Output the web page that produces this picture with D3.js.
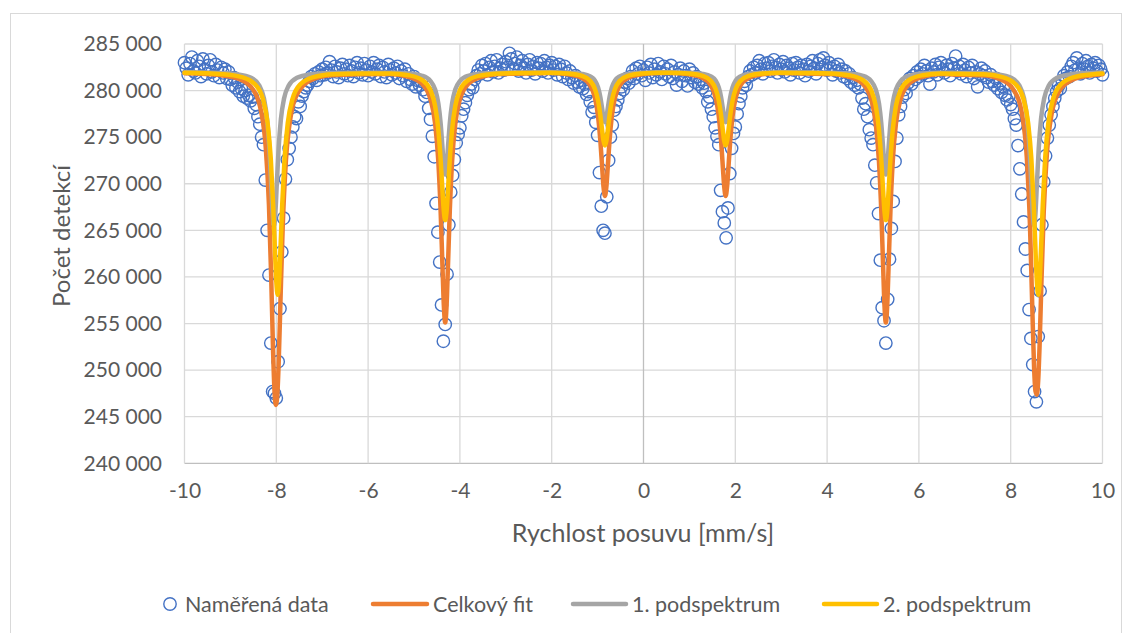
<!DOCTYPE html>
<html>
<head>
<meta charset="utf-8">
<script src="https://cdn.jsdelivr.net/npm/d3@7"></script>
<style>
  html, body { margin: 0; padding: 0; background: #ffffff; }
  svg { display: block; font-family: Lato, "Open Sans", sans-serif; }
</style>
</head>
<body>
<svg id="chart" width="1132" height="633"></svg>
<script>
// Mössbauer spectrum: measured counts per channel velocity [mm/s]
const velocity = [
  -10,-9.96,-9.92,-9.88,-9.84,-9.8,-9.76,-9.72,-9.68,-9.64,-9.6,-9.56,-9.52,-9.48,-9.44,-9.4,-9.36,-9.32,-9.28,-9.24,-9.2,-9.16,-9.12,-9.08,-9.04,
  -9,-8.96,-8.92,-8.88,-8.84,-8.8,-8.76,-8.72,-8.68,-8.64,-8.6,-8.56,-8.52,-8.48,-8.44,-8.4,-8.36,-8.32,-8.28,-8.24,-8.2,-8.16,-8.12,-8.08,-8.04,
  -8,-7.96,-7.92,-7.88,-7.84,-7.8,-7.76,-7.72,-7.68,-7.64,-7.6,-7.56,-7.52,-7.48,-7.44,-7.4,-7.36,-7.32,-7.28,-7.24,-7.2,-7.16,-7.12,-7.08,-7.04,
  -7,-6.96,-6.92,-6.88,-6.84,-6.8,-6.76,-6.72,-6.68,-6.64,-6.6,-6.56,-6.52,-6.48,-6.44,-6.4,-6.36,-6.32,-6.28,-6.24,-6.2,-6.16,-6.12,-6.08,-6.04,
  -6,-5.96,-5.92,-5.88,-5.84,-5.8,-5.76,-5.72,-5.68,-5.64,-5.6,-5.56,-5.52,-5.48,-5.44,-5.4,-5.36,-5.32,-5.28,-5.24,-5.2,-5.16,-5.12,-5.08,-5.04,
  -5,-4.96,-4.92,-4.88,-4.84,-4.8,-4.76,-4.72,-4.68,-4.64,-4.6,-4.56,-4.52,-4.48,-4.44,-4.4,-4.36,-4.32,-4.28,-4.24,-4.2,-4.16,-4.12,-4.08,-4.04,
  -4,-3.96,-3.92,-3.88,-3.84,-3.8,-3.76,-3.72,-3.68,-3.64,-3.6,-3.56,-3.52,-3.48,-3.44,-3.4,-3.36,-3.32,-3.28,-3.24,-3.2,-3.16,-3.12,-3.08,-3.04,
  -3,-2.96,-2.92,-2.88,-2.84,-2.8,-2.76,-2.72,-2.68,-2.64,-2.6,-2.56,-2.52,-2.48,-2.44,-2.4,-2.36,-2.32,-2.28,-2.24,-2.2,-2.16,-2.12,-2.08,-2.04,
  -2,-1.96,-1.92,-1.88,-1.84,-1.8,-1.76,-1.72,-1.68,-1.64,-1.6,-1.56,-1.52,-1.48,-1.44,-1.4,-1.36,-1.32,-1.28,-1.24,-1.2,-1.16,-1.12,-1.08,-1.04,
  -1,-0.96,-0.92,-0.88,-0.84,-0.8,-0.76,-0.72,-0.68,-0.64,-0.6,-0.56,-0.52,-0.48,-0.44,-0.4,-0.36,-0.32,-0.28,-0.24,-0.2,-0.16,-0.12,-0.08,-0.04,
  0,0.04,0.08,0.12,0.16,0.2,0.24,0.28,0.32,0.36,0.4,0.44,0.48,0.52,0.56,0.6,0.64,0.68,0.72,0.76,0.8,0.84,0.88,0.92,0.96,
  1,1.04,1.08,1.12,1.16,1.2,1.24,1.28,1.32,1.36,1.4,1.44,1.48,1.52,1.56,1.6,1.64,1.68,1.72,1.76,1.8,1.84,1.88,1.92,1.96,
  2,2.04,2.08,2.12,2.16,2.2,2.24,2.28,2.32,2.36,2.4,2.44,2.48,2.52,2.56,2.6,2.64,2.68,2.72,2.76,2.8,2.84,2.88,2.92,2.96,
  3,3.04,3.08,3.12,3.16,3.2,3.24,3.28,3.32,3.36,3.4,3.44,3.48,3.52,3.56,3.6,3.64,3.68,3.72,3.76,3.8,3.84,3.88,3.92,3.96,
  4,4.04,4.08,4.12,4.16,4.2,4.24,4.28,4.32,4.36,4.4,4.44,4.48,4.52,4.56,4.6,4.64,4.68,4.72,4.76,4.8,4.84,4.88,4.92,4.96,
  5,5.04,5.08,5.12,5.16,5.2,5.24,5.28,5.32,5.36,5.4,5.44,5.48,5.52,5.56,5.6,5.64,5.68,5.72,5.76,5.8,5.84,5.88,5.92,5.96,
  6,6.04,6.08,6.12,6.16,6.2,6.24,6.28,6.32,6.36,6.4,6.44,6.48,6.52,6.56,6.6,6.64,6.68,6.72,6.76,6.8,6.84,6.88,6.92,6.96,
  7,7.04,7.08,7.12,7.16,7.2,7.24,7.28,7.32,7.36,7.4,7.44,7.48,7.52,7.56,7.6,7.64,7.68,7.72,7.76,7.8,7.84,7.88,7.92,7.96,
  8,8.04,8.08,8.12,8.16,8.2,8.24,8.28,8.32,8.36,8.4,8.44,8.48,8.52,8.56,8.6,8.64,8.68,8.72,8.76,8.8,8.84,8.88,8.92,8.96,
  9,9.04,9.08,9.12,9.16,9.2,9.24,9.28,9.32,9.36,9.4,9.44,9.48,9.52,9.56,9.6,9.64,9.68,9.72,9.76,9.8,9.84,9.88,9.92,9.96,
  10
];

const counts = [
  283000,282400,281700,282900,283600,282100,281900,283200,282600,281500,283400,282300,281800,282700,283300,282000,281600,282800,282200,281400,282500,281900,282300,281300,282000,
  281200,280600,281400,280300,280900,279900,280200,279400,280000,279200,279500,278900,279300,278100,278500,277200,276400,275000,274200,270400,265000,260200,252900,247700,247500,
  247000,250900,256600,262700,266300,270500,272600,273800,275000,276100,277200,277000,278800,278300,279400,279900,280300,280600,281000,281500,281300,281800,281100,282000,281600,
  282300,281700,282500,281900,283100,282200,281500,282600,282000,281400,282400,282800,281800,282300,281600,282700,282100,281500,282500,283000,281900,282400,281700,282900,282200,
  281600,282600,282000,283000,281800,282300,282700,281500,282500,282000,281400,282800,282200,281700,282400,281900,282600,281300,282100,281600,282300,281000,281800,281200,280700,
  281500,280400,281100,280600,281000,280100,279400,279800,278100,276900,275100,272900,267900,264800,261600,257000,253100,254900,260300,265600,269100,270900,272600,274400,275300,
  276000,277300,278000,278700,279500,280100,280700,280300,281200,281600,282200,281800,282700,282100,282900,281700,282500,283200,282000,282600,283300,281900,282400,282800,282200,
  283100,282500,284000,283400,282300,282900,283600,282100,282700,283200,282400,281900,282800,283300,282200,282600,281800,283000,282400,282900,282100,283200,282500,281900,282700,
  283000,282200,282600,281700,282800,282300,281500,282600,281900,281200,282100,281400,280800,281600,280900,280400,281100,280200,280700,279600,279900,278800,277700,278200,276600,
  275200,271200,267600,265000,264700,268600,272500,275000,276300,277900,278300,279000,279700,280400,280100,280900,281300,280800,281500,282100,281300,282400,281800,282600,281600,
  282200,281100,282500,281900,282800,281400,282300,281700,282900,282000,281200,282600,281800,282300,281500,282700,281300,282000,280600,281700,282400,281000,282100,281600,280500,
  282300,281400,281900,280900,281500,280700,281200,280300,280800,279900,278800,279300,278000,277200,276000,275100,274200,269300,267000,265800,264200,267400,271100,273800,275400,
  276100,277500,278600,279400,280300,281000,280600,281500,282100,281700,282500,281900,282700,283200,282300,281800,282900,282400,283000,282100,282600,283300,282500,281900,282800,
  282300,283100,282000,282700,282400,281700,282900,282200,283000,282500,281900,282700,282300,281600,282800,282100,282600,283200,282400,281800,282900,283300,282500,283500,282700,
  282200,283000,282400,281700,282600,282100,282800,281900,282300,281500,282100,281300,281800,280900,281400,280600,281100,280300,280700,279200,278000,278600,277200,275800,274900,
  274200,272000,270100,266800,261800,256700,255300,252900,257600,261900,265200,268100,272400,274900,277400,278300,279300,280100,279700,280800,281300,280700,281600,281200,282000,
  281500,282300,281800,282700,282100,281600,280700,282400,282000,282800,281700,282500,283000,282200,281900,282700,282300,281600,282900,282400,283700,282100,282600,281800,282800,
  282200,281500,282500,281900,282700,281300,282000,280400,281800,282400,281600,282100,281400,280900,281700,281000,280600,281300,280200,280800,279800,280400,279500,279000,279400,
  278500,278000,277000,276300,274100,271600,268900,265900,263000,260700,256500,253400,250600,247700,246600,253600,258500,265600,270200,273000,274900,276300,277400,278300,279200,
  279900,280500,280200,281100,281600,281300,282000,281500,282600,283000,282200,283500,282400,281800,282900,282300,283200,282600,281900,282800,282400,283000,282100,282700,282300,
  281700
];

// Fitted curves: [velocity, counts]
const fitTotal = [
  [-10,281870],
  [-9.21,281660],[-8.81,281240],[-8.51,280130],[-8.33,277740],[-8.23,273910],[-8.16,267720],[-8.11,259750],[-8.07,252030],[-8.04,247830],[-8.01,246270],
  [-7.98,247190],[-7.95,250500],[-7.91,257310],[-7.86,265430],[-7.79,272520],[-7.69,277110],[-7.51,279930],[-7.21,281190],[-6.81,281640],
  [-6.2,281750],
  [-5.52,281770],[-5.12,281480],[-4.82,280710],[-4.64,279060],[-4.54,276470],[-4.47,272410],[-4.42,267120],[-4.38,261190],[-4.35,256940],[-4.32,255100],
  [-4.29,256940],[-4.26,261190],[-4.22,267120],[-4.17,272410],[-4.1,276470],[-4,279060],[-3.82,280710],[-3.52,281480],[-3.12,281770],
  [-2.58,281830],
  [-2.04,281890],[-1.64,281740],[-1.34,281360],[-1.16,280550],[-1.06,279270],[-0.99,277260],[-0.94,274640],[-0.9,271710],[-0.87,269610],[-0.84,268700],
  [-0.81,269610],[-0.78,271710],[-0.74,274640],[-0.69,277260],[-0.62,279270],[-0.52,280550],[-0.34,281360],[-0.04,281740],[0.36,281890],
  [0.59,281890],[0.99,281740],[1.29,281360],[1.47,280550],[1.57,279270],[1.64,277260],[1.69,274640],[1.73,271710],[1.76,269610],[1.79,268700],
  [1.82,269610],[1.85,271710],[1.89,274640],[1.94,277260],[2.01,279270],[2.11,280550],[2.29,281360],[2.59,281740],[2.99,281890],
  [3.53,281830],
  [4.08,281770],[4.48,281480],[4.78,280710],[4.96,279060],[5.06,276470],[5.13,272410],[5.18,267120],[5.22,261190],[5.25,256940],[5.28,255100],
  [5.31,256940],[5.34,261190],[5.38,267120],[5.43,272410],[5.5,276470],[5.6,279060],[5.78,280710],[6.08,281480],[6.48,281770],
  [6.9,281690],
  [7.37,281650],[7.77,281220],[8.07,280020],[8.25,277360],[8.35,272890],[8.42,265530],[8.47,256780],[8.51,250200],[8.54,247740],[8.57,247370],
  [8.6,248980],[8.63,252740],[8.67,259530],[8.72,267000],[8.79,273320],[8.89,277440],[9.07,280030],[9.37,281210],[9.77,281650],
  [10,281750]
];

const fitSub1 = [
  [-10,281960],
  [-9.25,281890],[-8.85,281750],[-8.55,281370],[-8.37,280530],[-8.27,279180],[-8.2,276920],[-8.15,273750],[-8.11,269870],[-8.08,266860],[-8.05,265500],
  [-8.02,266860],[-7.99,269870],[-7.95,273750],[-7.9,276920],[-7.83,279180],[-7.73,280530],[-7.55,281370],[-7.25,281750],[-6.85,281890],
  [-6.2,281920],
  [-5.52,281920],[-5.12,281830],[-4.82,281580],[-4.64,281020],[-4.54,280120],[-4.47,278620],[-4.42,276500],[-4.38,273910],[-4.35,271910],[-4.32,271000],
  [-4.29,271910],[-4.26,273910],[-4.22,276500],[-4.17,278620],[-4.1,280120],[-4,281020],[-3.82,281580],[-3.52,281830],[-3.12,281920],
  [-2.58,281950],
  [-2.04,281960],[-1.64,281920],[-1.34,281790],[-1.16,281520],[-1.06,281080],[-0.99,280340],[-0.94,279300],[-0.9,278030],[-0.87,277050],[-0.84,276600],
  [-0.81,277050],[-0.78,278030],[-0.74,279300],[-0.69,280340],[-0.62,281080],[-0.52,281520],[-0.34,281790],[-0.04,281920],[0.36,281960],
  [0.59,281960],[0.99,281920],[1.29,281790],[1.47,281520],[1.57,281080],[1.64,280340],[1.69,279300],[1.73,278030],[1.76,277050],[1.79,276600],
  [1.82,277050],[1.85,278030],[1.89,279300],[1.94,280340],[2.01,281080],[2.11,281520],[2.29,281790],[2.59,281920],[2.99,281960],
  [3.53,281950],
  [4.08,281920],[4.48,281830],[4.78,281580],[4.96,281020],[5.06,280120],[5.13,278620],[5.18,276500],[5.22,273910],[5.25,271910],[5.28,271000],
  [5.31,271910],[5.34,273910],[5.38,276500],[5.43,278620],[5.5,280120],[5.6,281020],[5.78,281580],[6.08,281830],[6.48,281920],
  [6.9,281900],
  [7.31,281890],[7.71,281750],[8.01,281370],[8.19,280530],[8.29,279180],[8.36,276920],[8.41,273750],[8.45,269870],[8.48,266860],[8.51,265500],
  [8.54,266860],[8.57,269870],[8.61,273750],[8.66,276920],[8.73,279180],[8.83,280530],[9.01,281370],[9.31,281750],[9.71,281890],
  [10,281930]
];

const fitSub2 = [
  [-10,281920],
  [-9.17,281760],[-8.77,281470],[-8.47,280700],[-8.29,279050],[-8.19,276520],[-8.12,272670],[-8.07,267890],[-8.03,262880],[-8,259500],[-7.97,258100],
  [-7.94,259500],[-7.91,262880],[-7.87,267890],[-7.82,272670],[-7.75,276520],[-7.65,279050],[-7.47,280700],[-7.17,281470],[-6.77,281760],
  [-6.15,281830],
  [-5.52,281840],[-5.12,281650],[-4.82,281130],[-4.64,280040],[-4.54,278350],[-4.47,275800],[-4.42,272620],[-4.38,269280],[-4.35,267040],[-4.32,266100],
  [-4.29,267040],[-4.26,269280],[-4.22,272620],[-4.17,275800],[-4.1,278350],[-4,280040],[-3.82,281130],[-3.52,281650],[-3.12,281840],
  [-2.58,281890],
  [-2.04,281920],[-1.64,281830],[-1.34,281570],[-1.16,281030],[-1.06,280190],[-0.99,278920],[-0.94,277340],[-0.9,275680],[-0.87,274570],[-0.84,274100],
  [-0.81,274570],[-0.78,275680],[-0.74,277340],[-0.69,278920],[-0.62,280190],[-0.52,281030],[-0.34,281570],[-0.04,281830],[0.36,281920],
  [0.59,281920],[0.99,281830],[1.29,281570],[1.47,281030],[1.57,280190],[1.64,278920],[1.69,277340],[1.73,275680],[1.76,274570],[1.79,274100],
  [1.82,274570],[1.85,275680],[1.89,277340],[1.94,278920],[2.01,280190],[2.11,281030],[2.29,281570],[2.59,281830],[2.99,281920],
  [3.53,281890],
  [4.08,281840],[4.48,281650],[4.78,281130],[4.96,280040],[5.06,278350],[5.13,275800],[5.18,272620],[5.22,269280],[5.25,267040],[5.28,266100],
  [5.31,267040],[5.34,269280],[5.38,272620],[5.43,275800],[5.5,278350],[5.6,280040],[5.78,281130],[6.08,281650],[6.48,281840],
  [6.9,281800],
  [7.4,281760],[7.8,281470],[8.1,280700],[8.28,279050],[8.38,276520],[8.45,272670],[8.5,267890],[8.54,262880],[8.57,259500],[8.6,258100],
  [8.63,259500],[8.66,262880],[8.7,267890],[8.75,272670],[8.82,276520],[8.92,279050],[9.1,280700],[9.4,281470],[9.8,281760],
  [10,281830]
];

const xTickValues = [-10, -8, -6, -4, -2, 0, 2, 4, 6, 8, 10];
const yTickValues = [240000, 245000, 250000, 255000, 260000, 265000, 270000, 275000, 280000, 285000];

const seriesNames = ["Naměřená data", "Celkový fit", "1. podspektrum", "2. podspektrum"];
const seriesColors = ["#4472C4", "#ED7D31", "#A5A5A5", "#FFC000"];
const xTitle = "Rychlost posuvu [mm/s]";
const yTitle = "Počet detekcí";

// ---- layout ----
const svg = d3.select("#chart");
const plot = { left: 184.5, right: 1102.5, top: 44, bottom: 463.3 };

const x = d3.scaleLinear().domain([-10, 10]).range([plot.left, plot.right]);
const y = d3.scaleLinear().domain([240000, 285000]).range([plot.bottom, plot.top]);

const csLocale = d3.formatLocale({ decimal: ",", thousands: "\u00a0", grouping: [3], currency: ["", ""], minus: "-" });
const fmtY = csLocale.format(",d");
const fmtX = csLocale.format("d");

const textColor = "#595959";
const gridColor = "#d9d9d9";
const axisColor = "#bfbfbf";
const markerR = 6.2;

// chart frame
svg.append("rect")
  .attr("x", 10.5).attr("y", 13.5)
  .attr("width", 1111).attr("height", 640)
  .attr("fill", "#ffffff")
  .attr("stroke", "#d9d9d9").attr("stroke-width", 1);

// gridlines
const grid = svg.append("g");
grid.selectAll("line.h").data(yTickValues).join("line")
  .attr("x1", plot.left).attr("x2", plot.right)
  .attr("y1", d => y(d)).attr("y2", d => y(d))
  .attr("stroke", d => d === 240000 ? axisColor : gridColor)
  .attr("stroke-width", 1.3);
grid.selectAll("line.v").data(xTickValues).join("line")
  .attr("y1", plot.top).attr("y2", plot.bottom)
  .attr("x1", d => x(d)).attr("x2", d => x(d))
  .attr("stroke", d => d === 0 ? axisColor : gridColor)
  .attr("stroke-width", 1.3);

// axes (labels only, lines drawn as grid)
const yAxis = d3.axisLeft(y).tickValues(yTickValues).tickFormat(fmtY).tickSize(0).tickPadding(0);
const yg = svg.append("g").attr("transform", `translate(${162},0)`).call(yAxis);
yg.select(".domain").remove();
yg.selectAll("text").attr("fill", textColor).attr("font-size", 21).attr("font-family", "Lato, sans-serif");

const xAxis = d3.axisBottom(x).tickValues(xTickValues).tickFormat(fmtX).tickSize(0).tickPadding(0);
const xg = svg.append("g").attr("transform", `translate(0,${483})`).call(xAxis);
xg.select(".domain").remove();
xg.selectAll("text").attr("fill", textColor).attr("font-size", 21).attr("font-family", "Lato, sans-serif");

// axis titles
svg.append("text")
  .attr("x", 643).attr("y", 542)
  .attr("text-anchor", "middle")
  .attr("fill", textColor).attr("font-size", 25)
  .text(xTitle);
svg.append("text")
  .attr("transform", `translate(${70},${236}) rotate(-90)`)
  .attr("text-anchor", "middle")
  .attr("fill", textColor).attr("font-size", 24)
  .text(yTitle);

// measured data
const points = velocity.map((v, i) => [v, counts[i]]);
svg.append("g").selectAll("circle").data(points).join("circle")
  .attr("cx", d => x(d[0])).attr("cy", d => y(d[1]))
  .attr("r", markerR)
  .attr("fill", "none")
  .attr("stroke", seriesColors[0])
  .attr("stroke-width", 1.4);

// fitted curves
const line = d3.line().x(d => x(d[0])).y(d => y(d[1])).curve(d3.curveMonotoneX);
[[fitTotal, seriesColors[1]], [fitSub1, seriesColors[2]], [fitSub2, seriesColors[3]]].forEach(([data, color]) => {
  svg.append("path")
    .datum(data)
    .attr("d", line)
    .attr("fill", "none")
    .attr("stroke", color)
    .attr("stroke-width", 4.5)
    .attr("stroke-linejoin", "round")
    .attr("stroke-linecap", "round");
});

// legend
const legendY = 604;
const legend = svg.append("g").attr("font-size", 21.5).attr("fill", textColor);
legend.append("circle").attr("cx", 170).attr("cy", legendY).attr("r", markerR)
  .attr("fill", "none").attr("stroke", seriesColors[0]).attr("stroke-width", 1.4);
legend.append("text").attr("x", 185).attr("y", legendY).attr("dy", "0.35em").text(seriesNames[0]);

const lineItems = [
  { x0: 373, x1: 427, tx: 433, i: 1 },
  { x0: 573, x1: 626, tx: 632, i: 2 },
  { x0: 824, x1: 877, tx: 883, i: 3 }
];
lineItems.forEach(it => {
  legend.append("line")
    .attr("x1", it.x0).attr("x2", it.x1).attr("y1", legendY).attr("y2", legendY)
    .attr("stroke", seriesColors[it.i]).attr("stroke-width", 4.5).attr("stroke-linecap", "round");
  legend.append("text").attr("x", it.tx).attr("y", legendY).attr("dy", "0.35em").text(seriesNames[it.i]);
});
</script>
</body>
</html>
